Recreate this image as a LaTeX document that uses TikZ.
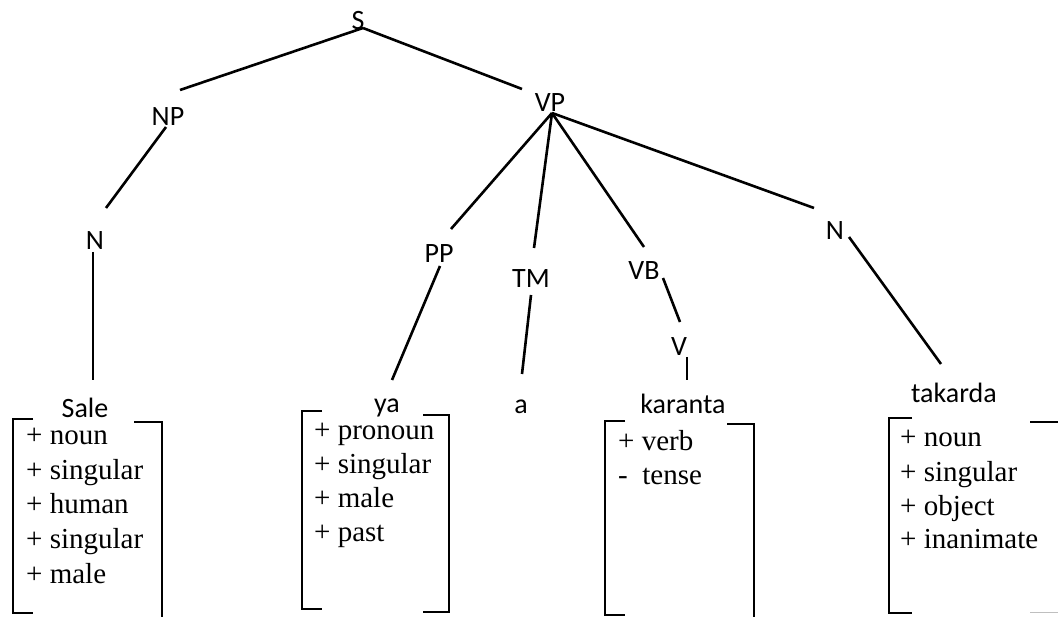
\documentclass[tikz,border=0pt]{standalone}
\usepackage{fontspec}
\setmainfont{Liberation Serif}
\newfontfamily\labelfont{Carlito}
\begin{document}
\begin{tikzpicture}[x=1pt,y=-1pt,
  cat/.style={anchor=base,inner sep=0pt,font=\labelfont\fontsize{28}{28}\selectfont},
  feat/.style={anchor=base west,inner sep=0pt,font=\fontsize{29}{34}\selectfont},
  branch/.style={line width=2.6pt},
  brk/.style={line width=2.8pt}]
\useasboundingbox (0,0) rectangle (1058,617);
\clip (0,0) rectangle (1058,617);

% category labels
\node[cat] (S)   at (358,30)  {S};
\node[cat] (NP)  at (168,126) {NP};
\node[cat] (VP)  at (550,112) {VP};
\node[cat] (N1)  at (95,250)  {N};
\node[cat] (PP)  at (439,263) {PP};
\node[cat] (TM)  at (531,288) {TM};
\node[cat] (VB)  at (644,280) {VB};
\node[cat] (V)   at (679,356) {V};
\node[cat] (N2)  at (835,240) {N};

% words
\node[cat] (sale)    at (85,418)  {Sale};
\node[cat] (ya)      at (387,413) {ya};
\node[cat] (a)       at (521,414) {a};
\node[cat] (karanta) at (683,414) {karanta};
\node[cat] (takarda) at (954,403) {takarda};

% branch end points
\coordinate (S-j)  at (363,28);
\coordinate (NP-t) at (180,90);
\coordinate (VP-t) at (522,89);
\coordinate (NP-j) at (166,127);
\coordinate (N1-t) at (106,208);
\coordinate (N1-j) at (93,252);
\coordinate (sale-t) at (93,380);
\coordinate (VP-j) at (552,113);
\coordinate (PP-t) at (451,229);
\coordinate (TM-t) at (534,248);
\coordinate (VB-t) at (644,247);
\coordinate (N2-t) at (814,208);
\coordinate (PP-j) at (440,266);
\coordinate (ya-t) at (392,380);
\coordinate (TM-j) at (531,295);
\coordinate (a-t)  at (522,374);
\coordinate (VB-j) at (663,278);
\coordinate (V-t)  at (680,322);
\coordinate (V-j)  at (687,357);
\coordinate (karanta-t) at (687,380);
\coordinate (N2-j) at (849,237);
\coordinate (takarda-t) at (941,364);

% branches
\draw[branch] (S-j) -- (NP-t);
\draw[branch] (S-j) -- (VP-t);
\draw[branch] (NP-j) -- (N1-t);
\draw[branch] (N1-j) -- (sale-t);
\draw[branch] (VP-j) -- (PP-t);
\draw[branch] (VP-j) -- (TM-t);
\draw[branch] (VP-j) -- (VB-t);
\draw[branch] (VP-j) -- (N2-t);
\draw[branch] (PP-j) -- (ya-t);
\draw[branch] (TM-j) -- (a-t);
\draw[branch] (VB-j) -- (V-t);
\draw[branch] (V-j) -- (karanta-t);
\draw[branch] (N2-j) -- (takarda-t);

% feature matrix of Sale
\draw[brk] (33,419) -- (13,419) -- (13,613) -- (33,613);
\draw[brk] (134,422) -- (162,422) -- (162,620);
\node[feat] (f11) at (26,445)   {+ noun};
\node[feat] (f12) at (26,479.5) {+ singular};
\node[feat] (f13) at (26,514)   {+ human};
\node[feat] (f14) at (26,548.5) {+ singular};
\node[feat] (f15) at (26,583)   {+ male};

% feature matrix of ya
\draw[brk] (322,411) -- (302,411) -- (302,609) -- (322,609);
\draw[brk] (423,415) -- (449,415) -- (449,612) -- (423,612);
\node[feat] (f21) at (314,440) {+ pronoun};
\node[feat] (f22) at (314,473.5) {+ singular};
\node[feat] (f23) at (314,507.5) {+ male};
\node[feat] (f24) at (314,541.5) {+ past};

% feature matrix of karanta
\draw[brk] (625,421) -- (605,421) -- (605,615) -- (625,615);
\draw[brk] (727,424) -- (754,424) -- (754,620);
\node[feat] (f31) at (618,451) {+ verb};
\node[feat] (f32) at (618,485) {-\ \ tense};

% feature matrix of takarda
\draw[brk] (912,418) -- (889,418) -- (889,613) -- (912,613);
\draw[brk] (1030,422) -- (1060,422);
\draw[line width=1pt,black!25] (1030,612) -- (1060,612);
\node[feat] (f41) at (900,447) {+ noun};
\node[feat] (f42) at (900,481.5) {+ singular};
\node[feat] (f43) at (900,515) {+ object};
\node[feat] (f44) at (900,548.5) {+ inanimate};
\end{tikzpicture}
\end{document}
